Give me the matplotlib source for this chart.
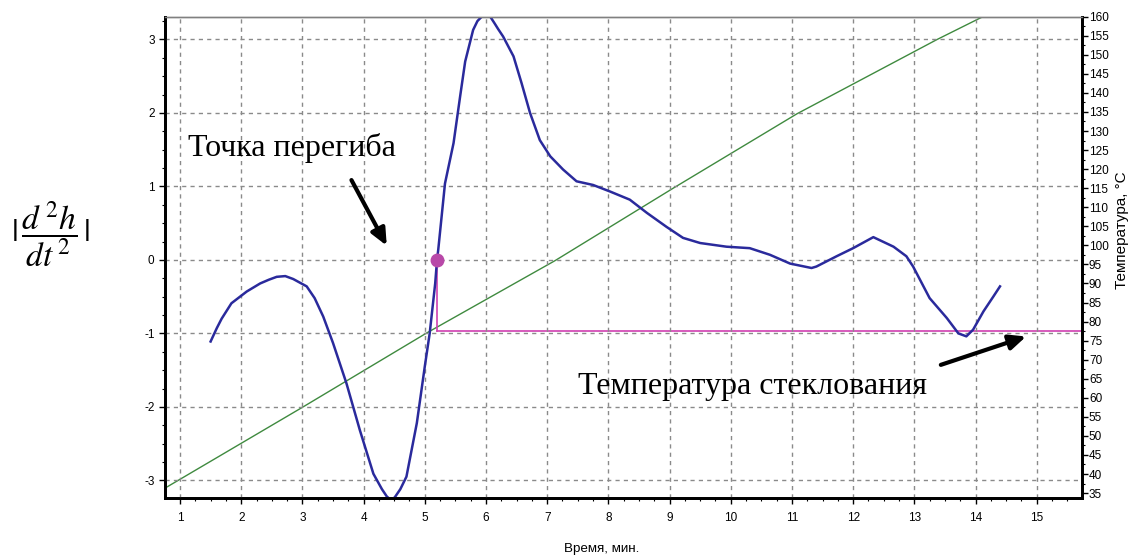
import matplotlib.pyplot as plt
from matplotlib.ticker import MultipleLocator

plt.rcParams['font.family'] = ['Liberation Sans', 'DejaVu Sans']
plt.rcParams['mathtext.fontset'] = 'stix'
plt.rcParams['axes.unicode_minus'] = False

# second derivative |d2h/dt2| vs time, min
t_curve = [1.50, 1.60, 1.68, 1.84, 2.09, 2.31, 2.45, 2.58, 2.72, 2.85, 3.07, 3.20, 3.34,
           3.50, 3.72, 3.94, 4.16, 4.30, 4.38, 4.45, 4.51, 4.60, 4.70, 4.87, 5.00, 5.08,
           5.17, 5.20, 5.22, 5.33, 5.47, 5.58, 5.66, 5.79, 5.86, 5.93, 6.00, 6.07,
           6.14, 6.20, 6.28, 6.45, 6.58, 6.72, 6.88, 7.05, 7.26, 7.48, 7.75, 8.03,
           8.35, 8.63, 8.95, 9.22, 9.50, 9.93, 10.31, 10.64, 10.97, 11.32, 11.40,
           11.73, 12.00, 12.33, 12.66, 12.87, 12.98, 13.25, 13.53, 13.72, 13.85,
           13.96, 14.13, 14.29, 14.40]
d2h = [-1.11, -0.93, -0.80, -0.59, -0.43, -0.32, -0.27, -0.23, -0.22, -0.26, -0.36, -0.52, -0.77,
       -1.13, -1.68, -2.32, -2.91, -3.12, -3.22, -3.27, -3.23, -3.12, -2.95, -2.22, -1.45, -1.00,
       -0.32, 0.00, 0.14, 1.04, 1.59, 2.24, 2.70, 3.13, 3.25, 3.31, 3.36, 3.31,
       3.22, 3.14, 3.04, 2.77, 2.41, 2.00, 1.63, 1.41, 1.23, 1.07, 1.02, 0.93,
       0.82, 0.64, 0.45, 0.30, 0.23, 0.18, 0.16, 0.07, -0.05, -0.11, -0.09,
       0.05, 0.16, 0.31, 0.18, 0.05, -0.09, -0.52, -0.79, -1.00, -1.04,
       -0.95, -0.70, -0.50, -0.36]

# temperature programme
t_temp = [0.755, 3.0, 5.03, 7.13, 9.06, 11.08, 13.37, 14.12, 15.74]
temp = [36.3, 57.5, 77.0, 96.0, 115.0, 134.5, 154.0, 160.0, 160.0]

t_inflection = 5.20
d2h_inflection = 0.0
t_glass = 77.5

fig = plt.figure(figsize=(11.35, 5.58), dpi=100)
ax = fig.add_axes([0.1454, 0.1075, 0.8079, 0.8626])
ax2 = ax.twinx()
ax.set_zorder(ax2.get_zorder() + 1)
ax.patch.set_visible(False)

ax.set_xlim(0.755, 15.74)
ax.set_ylim(-3.24, 3.31)
ax2.set_ylim(33.7, 160.0)

ax2.plot(t_temp, temp, color='#3f8a3f', lw=1.0)
ax2.plot([t_inflection, 15.74], [t_glass, t_glass], color='#d040b0', lw=1.2)

# vertical magenta line from the inflection point down to Tg
y_tg = ax.transData.inverted().transform(ax2.transData.transform((t_inflection, t_glass)))[1]
ax.plot([t_inflection, t_inflection], [d2h_inflection, y_tg], color='#d040b0', lw=1.2)
ax.plot(t_curve, d2h, color='#2a2a9c', lw=1.8)
ax.plot([t_inflection], [d2h_inflection], 'o', color='#b848a8', ms=9, clip_on=False)

# grid and ticks
ax.xaxis.set_major_locator(MultipleLocator(1))
ax.xaxis.set_minor_locator(MultipleLocator(0.25))
ax.yaxis.set_major_locator(MultipleLocator(1))
ax.yaxis.set_minor_locator(MultipleLocator(0.25))
ax2.yaxis.set_major_locator(MultipleLocator(5))
ax2.yaxis.set_minor_locator(MultipleLocator(2.5))
ax.grid(True, which='major', color='#8a8a8a', ls=(0, (3, 3)), lw=1.0)

for a in (ax, ax2):
    a.tick_params(which='major', length=4, width=1, labelsize=8.5, colors='black')
    a.tick_params(which='minor', length=2.5, width=0.8)
ax.tick_params(axis='x', pad=6)
ax2.tick_params(axis='y', pad=1)

for a in (ax, ax2):
    a.spines['top'].set_color('#808080')
    a.spines['top'].set_linewidth(1.0)
    for s in ('left', 'bottom', 'right'):
        a.spines[s].set_linewidth(2.0)
        a.spines[s].set_color('black')

fig.text(0.9885, 0.588, 'Температура, °C', fontsize=11, rotation=90,
         ha='center', va='center')
fig.text(0.530, 0.016, 'Время, мин.', fontsize=9.6, ha='center', va='center')

fig.text(0.044, 0.579, r'$|\,\dfrac{d^{\,2}h}{dt^{\,2}}\,|$', fontsize=24,
         ha='center', va='center')

serif = ['Liberation Serif', 'DejaVu Serif']
ax.text(1.13, 1.42, 'Точка перегиба', fontsize=23, family=serif, va='baseline')
ax.annotate('', xy=(4.40, 0.16), xytext=(3.78, 1.12),
            arrowprops=dict(arrowstyle='-|>,head_length=1.0,head_width=0.45',
                            color='black', lw=3))
ax.text(7.50, -1.82, 'Температура стеклования', fontsize=23, family=serif,
        va='baseline')
ax.annotate('', xy=(14.87, -1.03), xytext=(13.39, -1.44),
            arrowprops=dict(arrowstyle='-|>,head_length=1.0,head_width=0.45',
                            color='black', lw=3))

plt.savefig('out.png', dpi=100)
